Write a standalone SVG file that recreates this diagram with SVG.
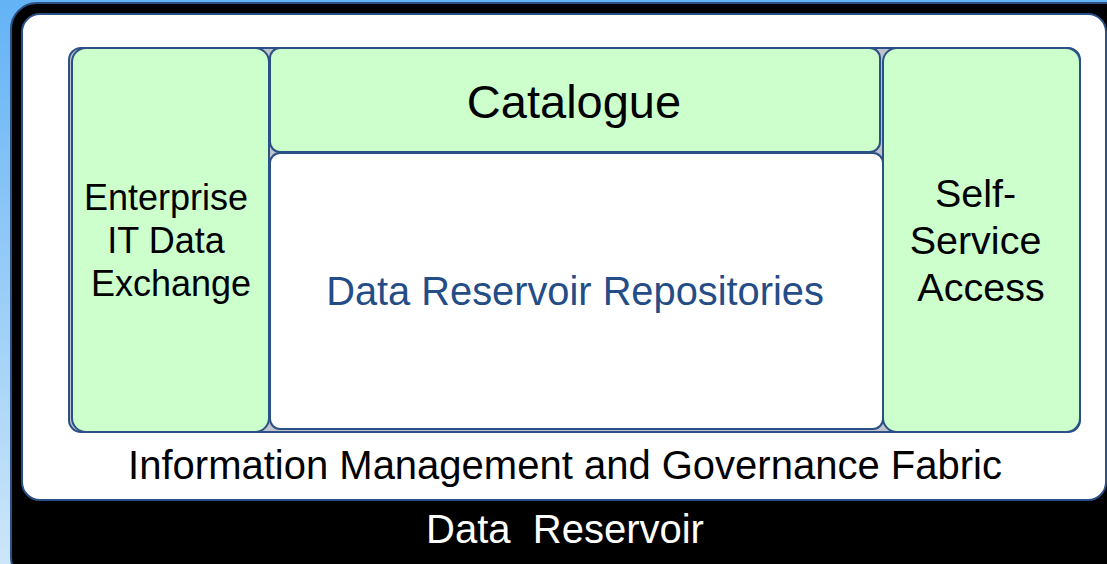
<svg xmlns="http://www.w3.org/2000/svg" width="1107" height="564" viewBox="0 0 1107 564">
  <defs>
    <linearGradient id="sky" x1="0" y1="0" x2="0" y2="1">
      <stop offset="0" stop-color="#63b3f5"/>
      <stop offset="1" stop-color="#cde6fa"/>
    </linearGradient>
    <style>
      .edge { stroke: #2b5086; stroke-width: 2; }
      .green { fill: #ccffcc; }
      .txt { font-family: "Liberation Sans", Arial, sans-serif; text-anchor: middle; }
      .dark { fill: #000000; }
    </style>
  </defs>

  <!-- backdrop -->
  <rect x="0" y="0" width="1107" height="564" fill="url(#sky)"/>

  <!-- outer reservoir frame -->
  <g id="data-reservoir">
    <rect x="11" y="3" width="1120" height="580" rx="26" fill="#000000" class="edge"/>
    <text class="txt" x="565" y="543" font-size="40" fill="#ffffff" xml:space="preserve">Data  Reservoir</text>
  </g>

  <!-- governance fabric -->
  <g id="governance-fabric">
    <rect x="22" y="14" width="1084" height="486" rx="18" fill="#ffffff" class="edge"/>
    <text class="txt dark" x="565" y="479" font-size="40">Information Management and Governance Fabric</text>
  </g>

  <!-- inner container -->
  <g id="core">
    <rect x="69" y="48" width="1011" height="384" rx="12" fill="#c0c2cc" class="edge"/>
  </g>

  <g id="enterprise-it">
    <rect x="72" y="48" width="197" height="384" rx="14" class="green edge"/>
    <text class="txt dark" font-size="36">
      <tspan x="171" y="210">Enterprise</tspan>
      <tspan x="171" y="253">IT Data</tspan>
      <tspan x="171" y="296">Exchange</tspan>
    </text>
  </g>

  <g id="catalogue">
    <rect x="270" y="48" width="610" height="104" rx="10" class="green edge"/>
    <text class="txt dark" x="574" y="118" font-size="47">Catalogue</text>
  </g>

  <g id="repositories">
    <rect x="270" y="153" width="613" height="276" rx="10" fill="#ffffff" class="edge"/>
    <text class="txt" x="575" y="305" font-size="39.8" fill="#244c86">Data Reservoir Repositories</text>
  </g>

  <g id="self-service">
    <rect x="883" y="48" width="197" height="384" rx="14" class="green edge"/>
    <text class="txt dark" font-size="39.5">
      <tspan x="981" y="207">Self-</tspan>
      <tspan x="981" y="254">Service</tspan>
      <tspan x="981" y="301">Access</tspan>
    </text>
  </g>

  <!-- no connectors in this layout -->
  <g id="connectors"/>
</svg>
